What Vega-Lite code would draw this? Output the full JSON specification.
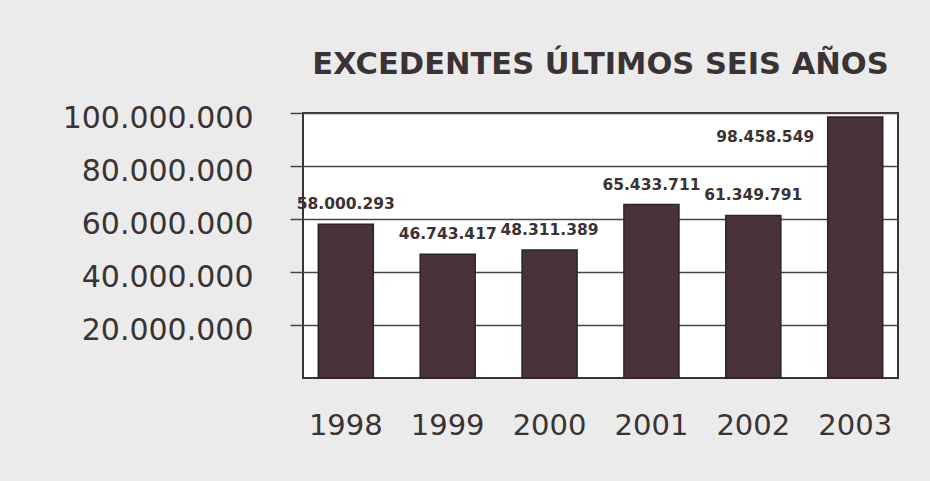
{
  "$schema": "https://vega.github.io/schema/vega-lite/v6.json",
  "autosize": {"type": "none"},
  "width": 595,
  "height": 265,
  "padding": {"left": 303, "top": 113, "right": 32, "bottom": 103},
  "background": "#ebebeb",
  "title": {
    "text": "EXCEDENTES ÚLTIMOS SEIS AÑOS",
    "font": "DejaVu Sans",
    "fontSize": 30.5,
    "fontWeight": "bold",
    "color": "#3a3335",
    "anchor": "middle",
    "frame": "group",
    "offset": 23
  },
  "data": {
    "values": [
      {"year": "1998", "value": 58000293},
      {"year": "1999", "value": 46743417},
      {"year": "2000", "value": 48311389},
      {"year": "2001", "value": 65433711},
      {"year": "2002", "value": 61349791},
      {"year": "2003", "value": 98458549}
    ]
  },
  "encoding": {
    "x": {
      "field": "year",
      "type": "nominal",
      "sort": null,
      "scale": {"paddingInner": 0.46, "paddingOuter": 0.15},
      "axis": {
        "title": null,
        "labelAngle": 0,
        "labelFont": "DejaVu Sans",
        "labelFontSize": 29,
        "labelColor": "#3a3335",
        "labelPadding": 33,
        "ticks": false,
        "domain": false
      }
    },
    "y": {
      "field": "value",
      "type": "quantitative",
      "scale": {"domain": [0, 100000000], "nice": false},
      "axis": {
        "title": null,
        "values": [20000000, 40000000, 60000000, 80000000, 100000000],
        "format": ",d",
        "labelFont": "DejaVu Sans",
        "labelFontSize": 30,
        "labelLimit": 400,
        "labelColor": "#3a3335",
        "labelPadding": 37,
        "labelOffset": 5,
        "tickSize": 13,
        "tickColor": "#4a4446",
        "tickWidth": 1.5,
        "grid": true,
        "gridColor": "#4a4446",
        "gridWidth": 1.5,
        "domain": false
      }
    }
  },
  "layer": [
    {
      "mark": {"type": "bar", "color": "#4a3338", "stroke": "#2e2226", "strokeWidth": 1.5}
    },
    {
      "transform": [{"filter": "datum.value < 90000000"}],
      "mark": {
        "type": "text",
        "dy": -20,
        "font": "DejaVu Sans",
        "fontSize": 15.5,
        "fontWeight": "bold",
        "color": "#3a3335"
      },
      "encoding": {
        "text": {"field": "value", "type": "quantitative", "format": ",d"}
      }
    },
    {
      "transform": [{"filter": "datum.value >= 90000000"}],
      "mark": {
        "type": "text",
        "align": "right",
        "dx": -41,
        "dy": 20,
        "font": "DejaVu Sans",
        "fontSize": 15.5,
        "fontWeight": "bold",
        "color": "#3a3335"
      },
      "encoding": {
        "text": {"field": "value", "type": "quantitative", "format": ",d"}
      }
    }
  ],
  "config": {
    "locale": {
      "number": {
        "decimal": ",",
        "thousands": ".",
        "grouping": [3],
        "currency": ["", " €"]
      }
    },
    "view": {"fill": "white", "stroke": "#3a3335", "strokeWidth": 2}
  }
}
